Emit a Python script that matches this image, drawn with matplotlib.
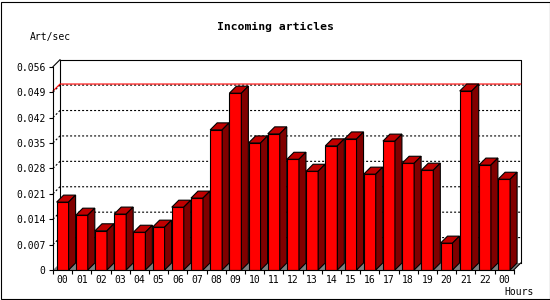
import numpy as np
import matplotlib
matplotlib.use("Agg")
import matplotlib.pyplot as plt
from matplotlib.patches import Rectangle

# -------------------------
# Data
# -------------------------
hours = ["00", "01", "02", "03", "04", "05", "06", "07", "08", "09", "10", "11",
         "12", "13", "14", "15", "16", "17", "18", "19", "20", "21", "22", "00"]
art_per_sec = [0.0187, 0.0151, 0.0108, 0.0154, 0.0104, 0.0118, 0.0173, 0.0198,
               0.0386, 0.0487, 0.0350, 0.0375, 0.0305, 0.0272, 0.0342, 0.0361,
               0.0264, 0.0355, 0.0294, 0.0275, 0.0074, 0.0493, 0.0289, 0.0250]
y_ticks = [0, 0.007, 0.014, 0.021, 0.028, 0.035, 0.042, 0.049, 0.056]
y_tick_labels = ["0", "0.007", "0.014", "0.021", "0.028", "0.035", "0.042", "0.049", "0.056"]

FRONT = "#ff0000"
TOP = "#c00000"
SIDE = "#800000"
FLOOR = "#808080"
MONO = "DejaVu Sans Mono"

plt.rcParams["lines.scale_dashes"] = False

W, H = 550, 300
fig = plt.figure(figsize=(5.5, 3), dpi=100)
fig.patch.set_facecolor("white")

# plot area (front plane) in pixels
left_px, right_px, top_px, base_px = 53, 513.7, 66.7, 270
ax = fig.add_axes([left_px / W, 1 - base_px / H,
                   (right_px - left_px) / W, (base_px - top_px) / H])
n = len(art_per_sec)
x = np.arange(n)
x0, x1 = -0.5, n - 0.5
ymax = 0.056
ax.set_xlim(x0, x1)
ax.set_ylim(0, ymax)
ax.patch.set_alpha(0)

# 3D depth: 7 px converted to data units
depth = 7
dx = depth / ((right_px - left_px) / (x1 - x0))
dy = depth / ((base_px - top_px) / ymax)

# -------------------------
# Back plane, floor, grid
# -------------------------
lw = 0.8
floor = [(x0, 0), (x0 + dx, dy), (x1 + dx, dy), (x1, 0)]
ax.fill(*zip(*floor), color=FLOOR, lw=0, zorder=0.5, clip_on=False)
ax.plot([x1, x1 + dx], [0, dy], color="black", lw=lw, zorder=0.6, clip_on=False)

for v in y_ticks[1:-1]:
    ax.plot([x0, x0 + dx, x1 + dx], [v, v + dy, v + dy], color="black",
            lw=lw, dashes=(1.44, 1.44), zorder=1, clip_on=False)

# max line
vmax = max(art_per_sec)
ax.plot([x0, x0 + dx, x1 + dx], [vmax, vmax + dy, vmax + dy], color="red",
        lw=lw, zorder=1.2, clip_on=False)

# back frame
ax.plot([x0 + dx, x0 + dx, x1 + dx, x1 + dx], [dy, ymax + dy, ymax + dy, dy],
        color="black", lw=lw, zorder=1.1, clip_on=False)
ax.plot([x0, x0 + dx], [ymax, ymax + dy], color="black", lw=lw, zorder=1.1,
        clip_on=False)

# -------------------------
# Bars
# -------------------------
bw = 0.625
ax.bar(x, art_per_sec, width=bw, color=FRONT, edgecolor="black", linewidth=lw,
       zorder=3)
for xi, v in zip(x, art_per_sec):
    fl, fr = xi - bw / 2, xi + bw / 2
    top = [(fl, v), (fr, v), (fr + dx, v + dy), (fl + dx, v + dy)]
    side = [(fr, 0), (fr, v), (fr + dx, v + dy), (fr + dx, dy)]
    ax.fill(*zip(*top), facecolor=TOP, edgecolor="black", lw=lw, zorder=3,
            clip_on=False)
    ax.fill(*zip(*side), facecolor=SIDE, edgecolor="black", lw=lw, zorder=3,
            clip_on=False)

# -------------------------
# Axes, ticks, labels
# -------------------------
for s in ["top", "right"]:
    ax.spines[s].set_visible(False)
for s in ["left", "bottom"]:
    ax.spines[s].set_linewidth(lw)
    ax.spines[s].set_zorder(4)

ax.set_yticks(y_ticks)
ax.set_yticklabels(y_tick_labels, fontfamily=MONO, fontsize=7)
ax.tick_params(axis="y", direction="out", length=2.9, width=lw, pad=2.5)

ax.set_xticks(np.arange(n + 1) - 0.5)
ax.set_xticklabels([])
ax.set_xticks(x, minor=True)
ax.set_xticklabels(hours, minor=True, fontfamily=MONO, fontsize=7)
ax.tick_params(axis="x", which="major", direction="out", length=2.9, width=lw)
ax.tick_params(axis="x", which="minor", length=0, pad=3.3)

fig.text(275 / W, 1 - 26.7 / H, "Incoming articles", ha="center", va="center",
         fontfamily=MONO, fontweight="bold", fontsize=8.2)
fig.text(30 / W, 1 - 36.7 / H, "Art/sec", ha="left", va="center",
         fontfamily=MONO, fontsize=7)
fig.text(504 / W, 1 - 292 / H, "Hours", ha="left", va="center",
         fontfamily=MONO, fontsize=7)

# outer border
fig.patches.append(Rectangle((0.5 / W, 1.5 / H), 549 / W, 297 / H, fill=False,
                             edgecolor="black", lw=lw,
                             transform=fig.transFigure))

fig.savefig("out.png", dpi=100)
